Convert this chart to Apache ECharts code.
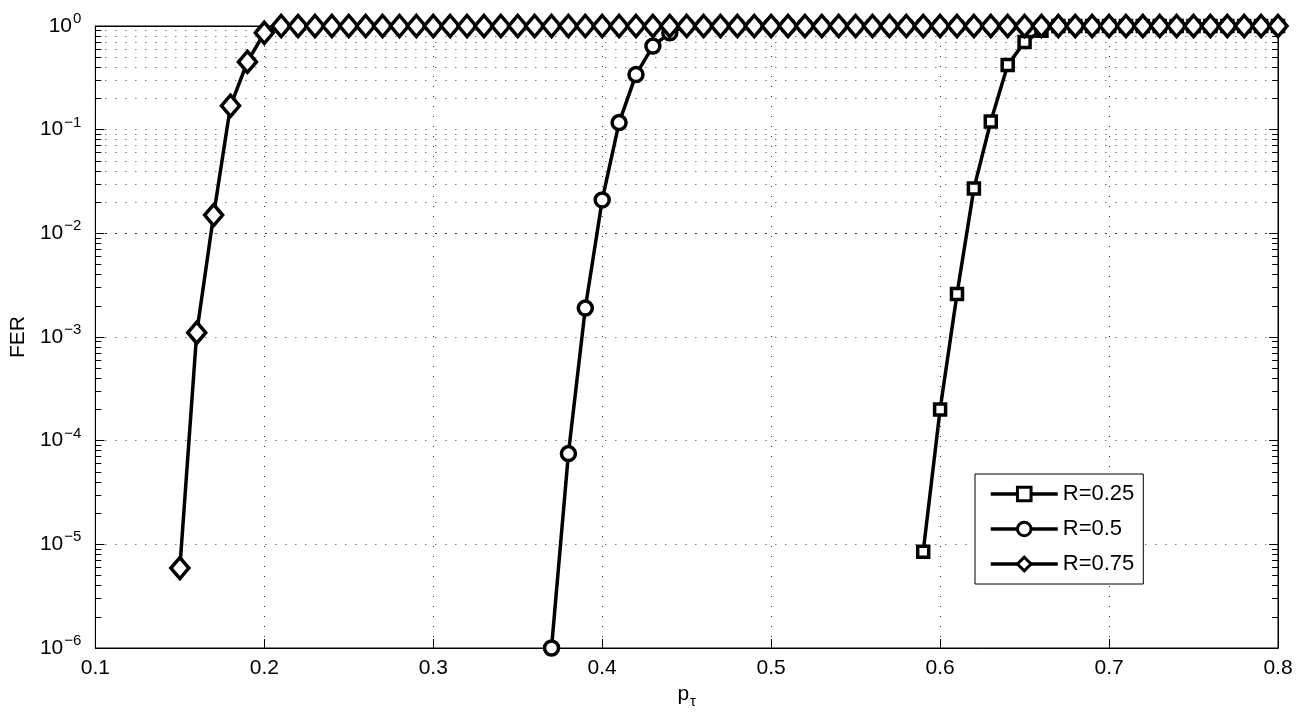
<!DOCTYPE html>
<html>
<head>
<meta charset="utf-8">
<title>FER vs p_tau</title>
<script src="https://cdn.jsdelivr.net/npm/echarts@6/dist/echarts.min.js"></script>
<style>
html, body { margin: 0; padding: 0; background: #fff; }
#chart { width: 1314px; height: 718px; }
</style>
</head>
<body>
<div id="chart"></div>
<script>
// x grid of the simulation points (step 0.01)
var pR75 = [0.15, 0.16, 0.17, 0.18, 0.19, 0.20, 0.21, 0.22, 0.23, 0.24, 0.25, 0.26, 0.27, 0.28, 0.29, 0.30,
    0.31, 0.32, 0.33, 0.34, 0.35, 0.36, 0.37, 0.38, 0.39, 0.40, 0.41, 0.42, 0.43, 0.44, 0.45, 0.46,
    0.47, 0.48, 0.49, 0.50, 0.51, 0.52, 0.53, 0.54, 0.55, 0.56, 0.57, 0.58, 0.59, 0.60, 0.61, 0.62,
    0.63, 0.64, 0.65, 0.66, 0.67, 0.68, 0.69, 0.70, 0.71, 0.72, 0.73, 0.74, 0.75, 0.76, 0.77, 0.78,
    0.79, 0.80];
var pR50 = pR75.slice(22);   // 0.37 .. 0.80
var pR25 = pR75.slice(44);   // 0.59 .. 0.80

var ferR25 = [8.5e-6, 2.0e-4, 2.6e-3, 2.7e-2, 1.2e-1, 4.2e-1, 0.70, 0.90,
    1, 1, 1, 1, 1, 1, 1, 1, 1, 1, 1, 1, 1, 1];
var ferR50 = [1.0e-6, 7.5e-5, 1.9e-3, 2.1e-2, 1.17e-1, 3.4e-1, 0.64, 0.86,
    1, 1, 1, 1, 1, 1, 1, 1, 1, 1, 1, 1, 1, 1, 1, 1, 1, 1, 1, 1,
    1, 1, 1, 1, 1, 1, 1, 1, 1, 1, 1, 1, 1, 1, 1, 1];
var ferR75 = [5.9e-6, 1.1e-3, 1.5e-2, 1.7e-1, 0.45, 0.86,
    1, 1, 1, 1, 1, 1, 1, 1, 1, 1, 1, 1, 1, 1, 1, 1, 1, 1, 1, 1,
    1, 1, 1, 1, 1, 1, 1, 1, 1, 1, 1, 1, 1, 1, 1, 1, 1, 1, 1, 1,
    1, 1, 1, 1, 1, 1, 1, 1, 1, 1, 1, 1, 1, 1, 1, 1, 1, 1, 1, 1];

var seriesNames = ['R=0.25', 'R=0.5', 'R=0.75'];
var xMin = 0.1, xMax = 0.8, xStep = 0.1;
var yMin = 1e-6, yMax = 1;

var FONT = '"Liberation Sans", Arial, Helvetica, sans-serif';

function zip(xs, ys) {
    var out = [];
    for (var i = 0; i < xs.length; i++) out.push([xs[i], ys[i]]);
    return out;
}

// minor log grid lines 2..9 x 10^k and the little inside ticks on both sides
var minorLines = [];
var minorTicks = [];
for (var k = -6; k < 0; k++) {
    for (var m = 2; m <= 9; m++) {
        var v = m * Math.pow(10, k);
        minorLines.push({ yAxis: v });
        minorTicks.push([{ coord: [xMin, v] }, { coord: [xMin + 0.0035, v] }]);
        minorTicks.push([{ coord: [xMax - 0.0035, v] }, { coord: [xMax, v] }]);
    }
}

var dotted = { color: '#333', width: 1, type: [1, 9] };

function supLabel(v) {
    var e = Math.round(Math.log(v) / Math.LN10);
    return '{b|10}{s|' + (e < 0 ? '\u2212' + (-e) : e) + '}';
}

var chart = echarts.init(document.getElementById('chart'));

function lineSeries(name, data, symbol, size, z) {
    return {
        name: name,
        type: 'line',
        data: data,
        symbol: symbol,
        symbolSize: size,
        showSymbol: true,
        clip: false,
        z: z,
        lineStyle: { color: '#000', width: 3.5 },
        itemStyle: { color: '#fff', borderColor: '#000', borderWidth: 3.5 },
        emphasis: { disabled: true }
    };
}

var s25 = lineSeries(seriesNames[0], zip(pR25, ferR25), 'rect', 11, 3);
s25.markLine = {
    silent: true,
    symbol: 'none',
    z: 1,
    label: { show: false },
    lineStyle: dotted,
    data: minorLines
};
var s50 = lineSeries(seriesNames[1], zip(pR50, ferR50), 'circle', 14, 4);
s50.markLine = {
    silent: true,
    symbol: 'none',
    z: 1,
    label: { show: false },
    lineStyle: { color: '#000', width: 1, type: 'solid' },
    data: minorTicks
};
var s75 = lineSeries(seriesNames[2], zip(pR75, ferR75), 'diamond', [18, 21], 5);

var option = {
    animation: false,
    backgroundColor: '#fff',
    textStyle: { fontFamily: FONT },
    grid: {
        left: 92, right: 36, top: 26, bottom: 70,
        show: true, borderColor: '#000', borderWidth: 1, backgroundColor: 'transparent'
    },
    legend: {
        data: seriesNames,
        orient: 'vertical',
        left: 975,
        top: 474,
        padding: [9, 9, 9, 14],
        itemGap: 13,
        itemWidth: 67,
        itemHeight: 17,
        backgroundColor: '#fff',
        borderColor: '#000',
        borderWidth: 1,
        borderRadius: 0,
        selectedMode: false,
        lineStyle: { color: '#000', width: 3.5 },
        itemStyle: { color: '#fff', borderColor: '#000', borderWidth: 3 },
        textStyle: { fontSize: 22, color: '#000', fontFamily: FONT }
    },
    xAxis: [{
        type: 'value',
        min: xMin, max: xMax, interval: xStep,
        name: '{p|p}{s|\u03c4}',
        nameLocation: 'middle',
        nameGap: 21,
        nameTextStyle: {
            rich: {
                p: { fontSize: 21, color: '#000', fontFamily: FONT },
                s: { fontSize: 15, color: '#000', fontFamily: FONT, padding: [14, 0, 0, 1] }
            }
        },
        axisLine: { show: true, lineStyle: { color: '#000', width: 1 } },
        axisTick: { show: true, inside: true, length: 9, lineStyle: { color: '#000' } },
        axisLabel: {
            color: '#000', fontSize: 21, fontFamily: FONT, margin: 10,
            formatter: function (v) { return v.toFixed(1); }
        },
        splitLine: { show: true, lineStyle: dotted }
    }, {
        type: 'value',
        position: 'top',
        min: xMin, max: xMax, interval: xStep,
        axisLine: { show: true, lineStyle: { color: '#000', width: 1 } },
        axisTick: { show: true, inside: true, length: 9, lineStyle: { color: '#000' } },
        axisLabel: { show: false },
        splitLine: { show: false }
    }],
    yAxis: [{
        type: 'log',
        logBase: 10,
        min: yMin, max: yMax,
        name: 'FER',
        nameLocation: 'middle',
        nameGap: 55,
        nameTextStyle: { fontSize: 21, color: '#000', fontFamily: FONT },
        axisLine: { show: true, lineStyle: { color: '#000', width: 1 } },
        axisTick: { show: true, inside: true, length: 9, lineStyle: { color: '#000' } },
        axisLabel: {
            margin: 14,
            formatter: supLabel,
            rich: {
                b: { fontSize: 21, color: '#000', fontFamily: FONT },
                s: { fontSize: 15, color: '#000', fontFamily: FONT, padding: [0, 0, 14, 1] }
            }
        },
        splitLine: { show: true, lineStyle: dotted }
    }, {
        type: 'log',
        logBase: 10,
        position: 'right',
        min: yMin, max: yMax,
        axisLine: { show: true, lineStyle: { color: '#000', width: 1 } },
        axisTick: { show: true, inside: true, length: 9, lineStyle: { color: '#000' } },
        axisLabel: { show: false },
        splitLine: { show: false }
    }],
    series: [s25, s50, s75]
};

chart.setOption(option);
</script>
</body>
</html>
